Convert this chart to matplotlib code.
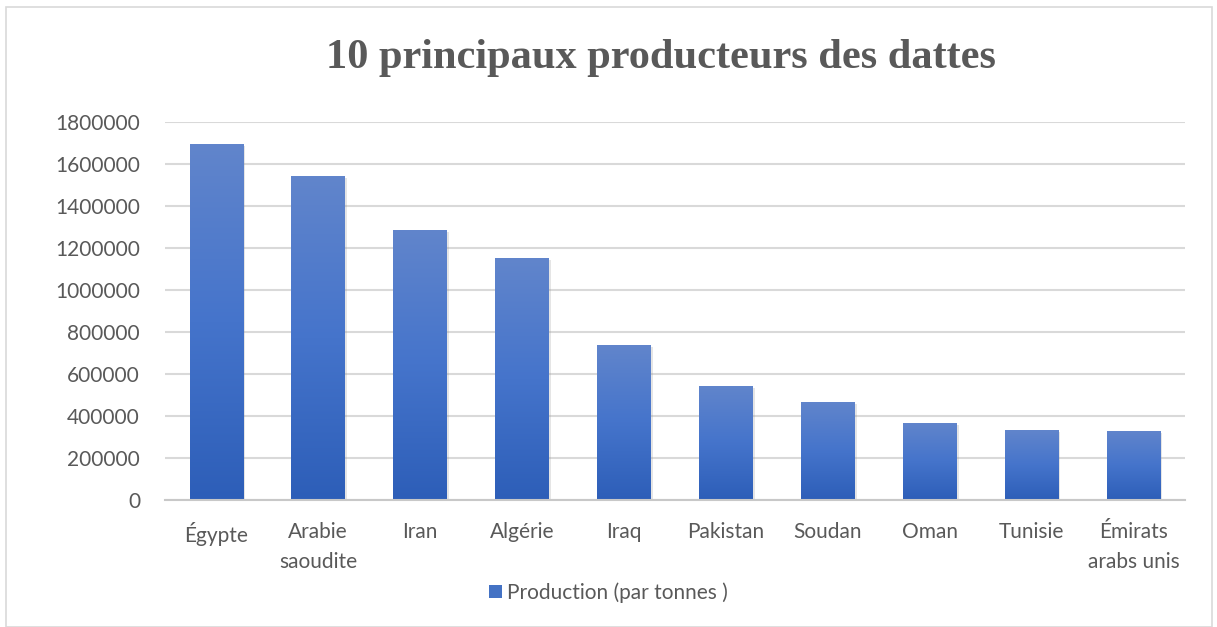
import numpy as np
import matplotlib.pyplot as plt
from matplotlib.patches import Rectangle, Patch
from matplotlib.colors import LinearSegmentedColormap
import matplotlib.patheffects as pe

# Data
pays = ['Égypte', 'Arabie\nsaoudite', 'Iran', 'Algérie', 'Iraq', 'Pakistan',
        'Soudan', 'Oman', 'Tunisie', 'Émirats\narabs unis']
production = [1694000, 1541000, 1286000, 1152000, 738000, 543000,
              467000, 367000, 333000, 329000]
yticks = [0, 200000, 400000, 600000, 800000, 1000000, 1200000, 1400000, 1600000, 1800000]

gris = '#595959'
plt.rcParams['font.family'] = ['Lato', 'DejaVu Sans']

fig = plt.figure(figsize=(12.17, 6.27), dpi=100)
fig.patches.append(Rectangle((6 / 1217, 0.0), 1206 / 1217, 1 - 7 / 627, transform=fig.transFigure,
                             fill=False, edgecolor='#d9d9d9', linewidth=1.2))

ax = fig.add_axes([0.1356, 0.2026, 0.838, 0.6028])
x = np.arange(len(pays))
bars = ax.bar(x, production, width=0.52, color='#4472c4', zorder=3,
              path_effects=[pe.SimplePatchShadow(offset=(1.5, -1.5), shadow_rgbFace='#999999', alpha=0.25),
                            pe.Normal()])

# degrade dans chaque barre (plus clair en haut)
grad = np.linspace(0, 1, 256).reshape(-1, 1)
cmap = LinearSegmentedColormap.from_list('g', ['#2d5eb8', '#4574cb', '#6185cc'])
for b in bars:
    x0, w, h = b.get_x(), b.get_width(), b.get_height()
    im = ax.imshow(grad, extent=(x0, x0 + w, 0, h), origin='lower', aspect='auto',
                   cmap=cmap, zorder=4)
    im.set_clip_path(b)

ax.set_xlim(-0.5, len(pays) - 0.5)
ax.set_ylim(0, 1800000)
ax.set_yticks(yticks)
ax.set_yticklabels([str(v) for v in yticks])
ax.set_xticks(x)
ax.set_xticklabels(pays, linespacing=1.6)
ax.tick_params(axis='both', length=0, labelsize=15, colors=gris)
ax.tick_params(axis='y', pad=18)
ax.tick_params(axis='x', pad=16)
ax.grid(axis='y', color='#d9d9d9', linewidth=1.5, zorder=0)
for s in ['top', 'right', 'left']:
    ax.spines[s].set_visible(False)
ax.spines['bottom'].set_color('#c8c8c8')
ax.spines['bottom'].set_linewidth(1.5)
ax.spines['bottom'].set_zorder(5)

fig.text(0.543, 0.908, '10 principaux producteurs des dattes', ha='center', va='center',
         fontsize=30.5, fontweight='bold', color=gris, family='Liberation Serif')

handle = Patch(facecolor='#4472c4', edgecolor='none')
fig.legend([handle], ['Production (par tonnes )'], loc='center', bbox_to_anchor=(0.5, 0.055),
           frameon=False, fontsize=15, labelcolor=gris, handlelength=0.65, handleheight=0.65,
           handletextpad=0.25)

fig.savefig('out.png', dpi=100)
